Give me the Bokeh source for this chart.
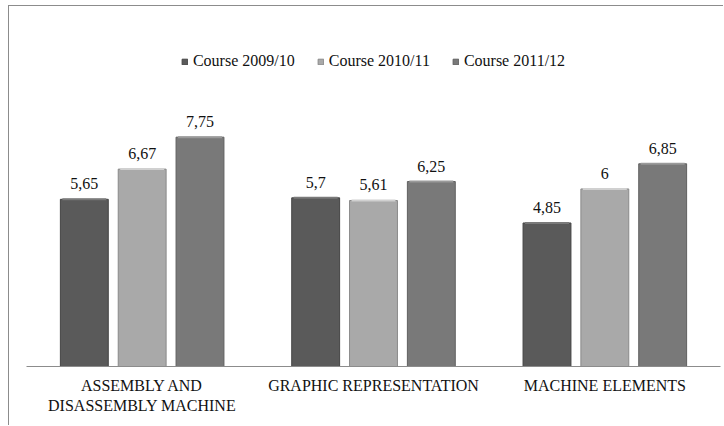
from bokeh.plotting import figure
from bokeh.models import ColumnDataSource, LabelSet, Legend, LegendItem, Range1d, FactorRange
from bokeh.transform import dodge
from bokeh.embed import file_html
from bokeh.resources import INLINE

# ---- data ----
categories = ["ASSEMBLY AND\nDISASSEMBLY MACHINE", "GRAPHIC REPRESENTATION", "MACHINE ELEMENTS"]
series_names = ["Course 2009/10", "Course 2010/11", "Course 2011/12"]
course_2009_10 = [5.65, 5.70, 4.85]
course_2010_11 = [6.67, 5.61, 6.00]
course_2011_12 = [7.75, 6.25, 6.85]

def fmt(v):
    return ("%g" % v).replace(".", ",")

source = ColumnDataSource(data=dict(
    cat=categories,
    s1=course_2009_10, s2=course_2010_11, s3=course_2011_12,
    t1=[fmt(v) for v in course_2009_10],
    t2=[fmt(v) for v in course_2010_11],
    t3=[fmt(v) for v in course_2011_12],
))

FONT = "Liberation Serif"

p = figure(
    x_range=FactorRange(*categories, range_padding=0),
    y_range=Range1d(0, 12.03),
    width=715, height=420,
    output_backend="svg", toolbar_location=None,
    min_border_left=17, min_border_right=4, min_border_top=4, min_border_bottom=60,
    background_fill_color="white", border_fill_color="white",
    outline_line_color=None,
    styles={"margin-left": "8px", "margin-top": "5px",
            "border-left": "1px solid #8c8c8c", "border-top": "1px solid #8c8c8c"},
)

fills = ["#5a5a5a", "#a9a9a9", "#797979"]
lines = ["#444444", "#8a8a8a", "#606060"]
tops = ["#7a7a7a", "#d0d0d0", "#9a9a9a"]
cols = ["s1", "s2", "s3"]
texts = ["t1", "t2", "t3"]
offsets = [-0.25, 0.0, 0.25]

items = []
for col, txt, off, fc, lc, tc, name in zip(cols, texts, offsets, fills, lines, tops, series_names):
    r = p.vbar(x=dodge("cat", off, range=p.x_range), top=col, width=0.207, source=source,
               fill_color=fc, line_color=lc, line_width=1)
    # light bevel highlight along the top edge of each bar
    p.rect(x=dodge("cat", off, range=p.x_range), y=col, width=0.19, height=2,
           height_units="screen", source=source, fill_color=tc, line_color=None)
    items.append(LegendItem(label=name, renderers=[r]))
    p.add_layout(LabelSet(x=dodge("cat", off, range=p.x_range), y=col, text=txt, source=source,
                          y_offset=10, text_align="center", text_baseline="alphabetic",
                          text_font=FONT, text_font_size="16px", text_color="#111111"))

legend = Legend(items=items, orientation="horizontal", location="top_center",
                border_line_color=None, background_fill_alpha=0,
                padding=0, margin=41, spacing=22, label_standoff=5,
                glyph_width=7, glyph_height=7, label_height=20,
                label_text_font=FONT, label_text_font_size="16px", label_text_color="#111111")
p.add_layout(legend)

p.yaxis.visible = False
p.xgrid.grid_line_color = None
p.ygrid.grid_line_color = None
p.xaxis.axis_line_color = "#8c8c8c"
p.xaxis.axis_line_width = 1
p.xaxis.major_tick_line_color = None
p.xaxis.minor_tick_line_color = None
p.xaxis.major_label_standoff = 4
p.xaxis.major_label_text_font = FONT
p.xaxis.major_label_text_font_size = "16px"
p.xaxis.major_label_text_color = "#111111"

open("out.html", "w").write(file_html(p, INLINE))
